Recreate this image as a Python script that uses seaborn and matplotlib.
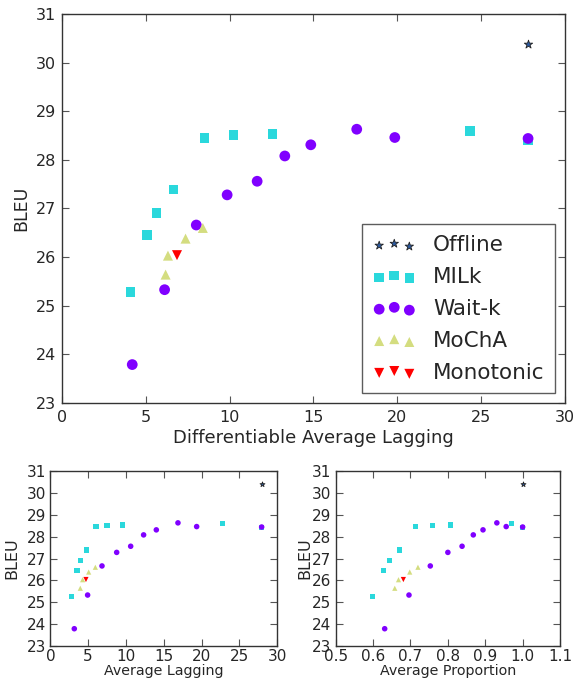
import seaborn as sns
import matplotlib.pyplot as plt

# BLEU vs latency for each method (DAL, AL, AP)
offline_dal = [27.8]
offline_al = [27.93]
offline_ap = [1.0]
offline_bleu = [30.39]

milk_dal = [4.09, 5.07, 5.64, 6.66, 8.49, 10.23, 12.56, 24.34, 27.8]
milk_al = [2.82, 3.52, 3.96, 4.76, 6.04, 7.49, 9.52, 22.78, 27.93]
milk_ap = [0.599, 0.628, 0.644, 0.670, 0.713, 0.759, 0.808, 0.971, 1.0]
milk_bleu = [25.28, 26.45, 26.91, 27.39, 28.45, 28.51, 28.53, 28.59, 28.40]

waitk_dal = [4.19, 6.12, 8.01, 9.85, 11.64, 13.29, 14.84, 17.58, 19.85, 27.8]
waitk_al = [3.17, 4.93, 6.83, 8.77, 10.62, 12.33, 14.01, 16.87, 19.34, 27.93]
waitk_ap = [0.631, 0.696, 0.753, 0.800, 0.838, 0.868, 0.894, 0.931, 0.956, 1.0]
waitk_bleu = [23.79, 25.33, 26.66, 27.28, 27.56, 28.08, 28.31, 28.63, 28.46, 28.44]

mocha_dal = [6.18, 6.32, 7.37, 8.40]
mocha_al = [3.96, 4.27, 5.07, 5.95]
mocha_ap = [0.658, 0.668, 0.698, 0.720]
mocha_bleu = [25.64, 26.03, 26.38, 26.60]

mono_dal = [6.86]
mono_al = [4.71]
mono_ap = [0.681]
mono_bleu = [26.04]

methods = ["Offline", "MILk", "Wait-k", "MoChA", "Monotonic"]
x_dal = [offline_dal, milk_dal, waitk_dal, mocha_dal, mono_dal]
x_al = [offline_al, milk_al, waitk_al, mocha_al, mono_al]
x_ap = [offline_ap, milk_ap, waitk_ap, mocha_ap, mono_ap]
bleus = [offline_bleu, milk_bleu, waitk_bleu, mocha_bleu, mono_bleu]

colors = ["#2c5aa0", "#2ad8dc", "#8000ff", "#d4dd80", "#ff0000"]
markers = ["*", "s", "o", "^", "v"]
edges = ["#222222", "none", "none", "none", "none"]

sns.set_style("white", {
    "xtick.direction": "in", "ytick.direction": "in",
    "axes.edgecolor": "#333333",
})
plt.rcParams["xtick.top"] = True
plt.rcParams["ytick.right"] = True
plt.rcParams["xtick.bottom"] = True
plt.rcParams["ytick.left"] = True
plt.rcParams["font.family"] = ["DejaVu Sans"]


def draw(ax, xs, xlabel, sizes, xlim, xticks, fs, xfs, yfs, pad, xpad, ypad):
    for name, x, y, c, m, e, s in zip(methods, xs, bleus, colors, markers, edges, sizes):
        sns.scatterplot(x=x, y=y, ax=ax, color=c, marker=m, s=s,
                        edgecolor=e, linewidth=0.6 if e != "none" else 0,
                        label=name, legend=False, zorder=3)
    ax.set_xlim(*xlim)
    ax.set_ylim(23, 31)
    ax.set_xticks(xticks)
    ax.set_yticks(range(23, 32))
    ax.set_xlabel(xlabel, fontsize=xfs, labelpad=xpad)
    ax.set_ylabel("BLEU", fontsize=yfs, labelpad=ypad)
    ax.tick_params(labelsize=fs, length=5, width=0.8, color="#555555", pad=pad)
    ax.tick_params(axis="x", pad=pad + 1)
    for sp in ax.spines.values():
        sp.set_linewidth(1.0)


fig = plt.figure(figsize=(5.81, 6.79), dpi=100)
ax_main = fig.add_axes([0.1067, 0.4065, 0.8657, 0.5729])
ax_al = fig.add_axes([0.0866, 0.0486, 0.3907, 0.2577])
ax_ap = fig.add_axes([0.5778, 0.0486, 0.3861, 0.2577])

draw(ax_main, x_dal, "Differentiable Average Lagging", [40, 48, 60, 52, 52],
     (0, 30), range(0, 31, 5), 11.5, 13, 12.5, 4, 3, 4)
draw(ax_al, x_al, "Average Lagging", [14, 14, 16, 14, 14],
     (0, 30), range(0, 31, 5), 11, 10.3, 11.5, 1.5, 0, 5)
draw(ax_ap, x_ap, "Average Proportion", [14, 14, 16, 14, 14],
     (0.5, 1.1), [0.5, 0.6, 0.7, 0.8, 0.9, 1.0, 1.1], 11, 10.3, 11.5, 1.5, 0, 0)
for a in (ax_al, ax_ap):
    a.tick_params(axis="y", pad=3)

leg = ax_main.legend(loc="lower right", scatterpoints=3,
                     scatteryoffsets=[0.375, 0.5, 0.3125],
                     fontsize=15.5, frameon=True, fancybox=False,
                     borderaxespad=0.45, labelspacing=0.55, handletextpad=0.8,
                     borderpad=0.5)
leg.get_frame().set_edgecolor("#333333")
leg.get_frame().set_linewidth(1.0)

fig.savefig("out.png", dpi=100)
